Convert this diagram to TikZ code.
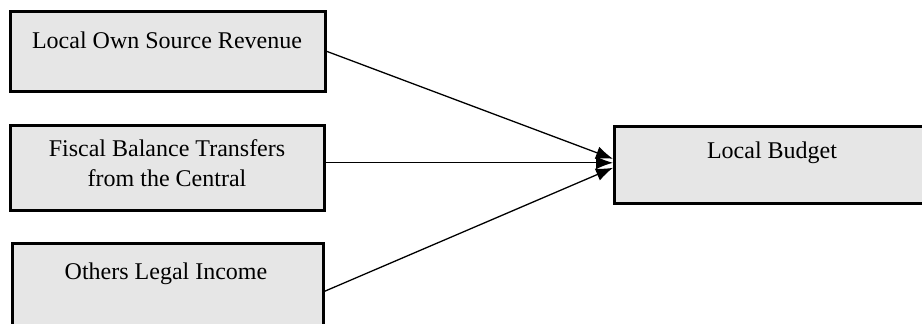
\documentclass[tikz,border=0pt]{standalone}
\usepackage{fontspec}
\setmainfont{Liberation Serif}
\usetikzlibrary{arrows.meta,calc}
\begin{document}
\begin{tikzpicture}[x=1pt,y=-1pt,
  box/.style={draw=black,line width=2.6pt,fill=boxgray,inner sep=0pt,anchor=north west},
  lbl/.style={font=\fontsize{24}{30}\selectfont,align=center,inner sep=0pt},
  conn/.style={line width=1.3pt,-{Latex[length=17pt,width=13pt]}}]
\definecolor{boxgray}{HTML}{E6E6E6}
\useasboundingbox (0,0) rectangle (922,324);
\clip (0,0) rectangle (922,324);
\node[box,minimum width=315pt,minimum height=80pt] (b1) at (9,10) {};
\node[box,minimum width=314pt,minimum height=85pt] (b2) at (9,124) {};
\node[box,minimum width=311pt,minimum height=96pt] (b3) at (11,242) {};
\node[box,minimum width=318pt,minimum height=77pt] (b4) at (613,125) {};
\node[lbl] (t1) at (167,40) {Local Own Source Revenue};
\node[lbl] (t2) at (167,163) {Fiscal Balance Transfers\\from the Central};
\node[lbl] (t3) at (166,274) {Others Legal Income};
\node[lbl] (t4) at (772,153) {Local Budget};
\coordinate (e1) at ($(b4.west)+(0,-6)$);
\coordinate (e2) at ($(b4.west)+(0,-2)$);
\coordinate (e3) at ($(b4.west)+(0,3)$);
\draw[conn] (b1.east) -- (e1);
\draw[conn] (b2.east |- e2) -- (e2);
\draw[conn] (b3.east) -- (e3);
\end{tikzpicture}
\end{document}
